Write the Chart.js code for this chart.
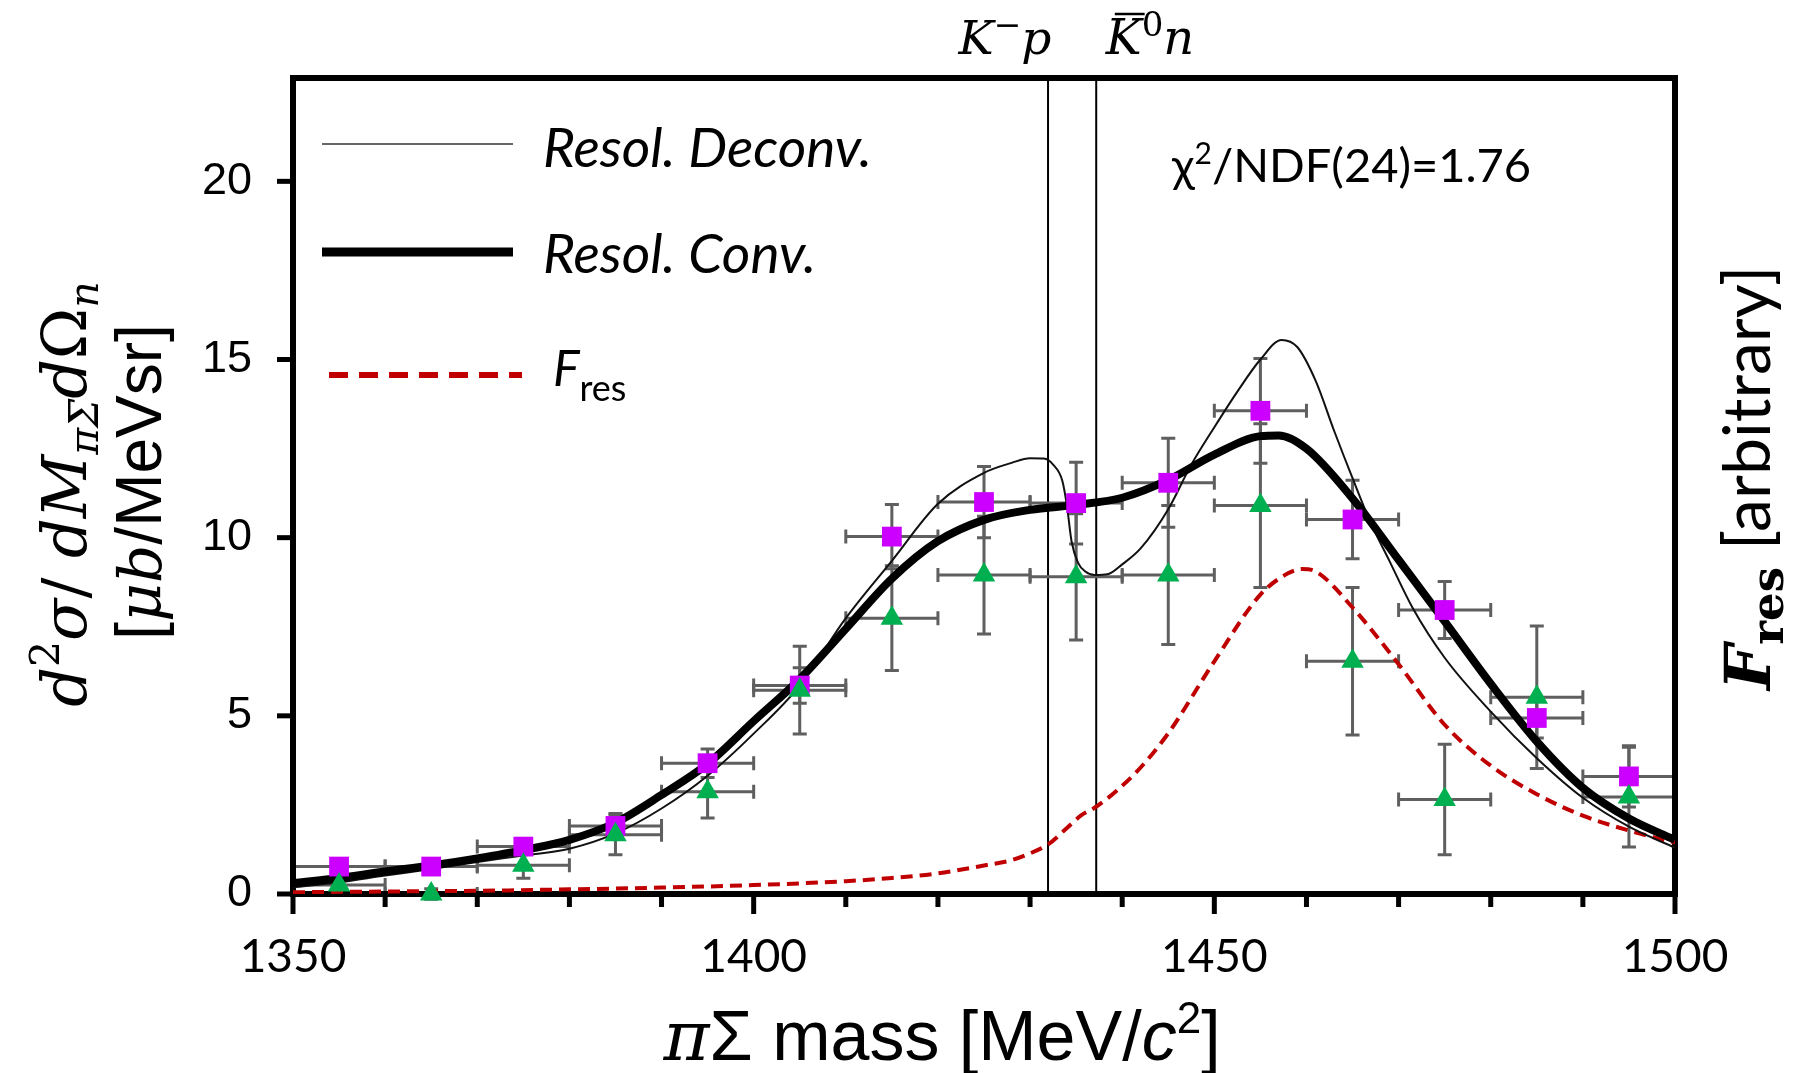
<!DOCTYPE html>
<html>
<head>
<meta charset="utf-8">
<script src="https://cdn.jsdelivr.net/npm/chart.js@4.4.0/dist/chart.umd.min.js"></script>
<style>
html,body{margin:0;padding:0;background:#ffffff;}
#wrap{width:1798px;height:1073px;position:relative;}
</style>
</head>
<body>
<div id="wrap"><canvas id="c" width="1798" height="1073"></canvas></div>
<script>
// ---------------- data ----------------
const massBins = [1355,1365,1375,1385,1395,1405,1415,1425,1435,1445,1455,1465,1475,1485,1495];
const binHalfWidth = 5;
const squareValues = [0.77,0.77,1.33,1.91,3.67,5.85,10.03,11.0,10.97,11.54,13.56,10.51,7.97,4.94,3.30];
const squareErrors = [0.15,0.15,0.2,0.35,0.4,0.5,0.9,1.0,1.15,1.25,1.47,1.1,0.8,0.56,0.86];
const triangleValues = [0.25,0.0,0.81,1.66,2.87,5.72,7.74,8.95,8.90,8.95,10.9,6.53,2.65,5.52,2.72];
const triangleErrors = [0.2,0.15,0.37,0.56,0.74,1.23,1.47,1.65,1.77,1.95,2.3,2.07,1.55,2.0,1.4];

const convMass = [1350,1355,1360,1365,1370,1375,1380,1385,1390,1395,1400,1405,1410,1415,1420,1425,1430,1435,1440,1445,1450,1455,1457,1460,1465,1470,1475,1480,1485,1490,1495,1500];
const convValues = [0.30,0.45,0.63,0.80,1.00,1.23,1.52,2.00,2.78,3.65,4.85,6.03,7.44,8.85,9.90,10.50,10.78,10.92,11.12,11.62,12.33,12.85,12.87,12.50,11.10,9.38,7.65,5.90,4.28,2.98,2.12,1.52];

const deconvMass = [1350,1355,1360,1365,1370,1375,1380,1385,1390,1395,1400,1405,1410,1415,1420,1425,1428,1430,1431.5,1432.5,1433.5,1434,1434.5,1435.2,1436,1437,1438.5,1440,1442,1445,1447.5,1450,1452.5,1455,1457.3,1459,1461,1463,1465,1467,1469,1471.5,1475,1480,1485,1490,1495,1500];
const deconvValues = [0.19,0.33,0.52,0.70,0.90,1.08,1.27,1.70,2.40,3.32,4.50,5.85,7.74,9.35,10.95,11.82,12.10,12.23,12.22,12.05,11.60,10.90,9.90,9.30,9.05,8.95,8.98,9.25,9.70,10.80,12.05,13.10,14.10,15.0,15.55,15.35,14.40,13.00,11.67,10.40,9.35,8.04,6.63,5.12,3.81,2.70,1.89,1.30];

const fresMass = [1350,1360,1370,1380,1390,1400,1410,1415,1420,1425,1428,1430,1432,1434,1435.5,1437,1439.4,1442,1445,1450,1455,1458,1459.5,1461,1465,1470,1475,1480,1485,1490,1495,1500];
const fresValues = [0.05,0.07,0.09,0.13,0.18,0.25,0.36,0.45,0.58,0.80,0.95,1.14,1.40,1.85,2.20,2.42,2.90,3.55,4.51,6.53,8.40,9.00,9.12,9.05,8.04,6.45,4.75,3.60,2.80,2.20,1.78,1.44];

const thresholdMass = [1431.95, 1437.18];
const xTickValues = [1350,1400,1450,1500];
const xMinorTickValues = [1350,1360,1370,1380,1390,1400,1410,1420,1430,1440,1450,1460,1470,1480,1490,1500];
const yTickValues = [0,5,10,15,20];

// ---------------- helpers ----------------
const SERIF = '"DejaVu Serif"';
const SANS = '"Liberation Sans", Arial';
const CAL = 'Lato, "DejaVu Sans"';
function pts(xs, ys){ return xs.map((x,i)=>({x:x, y:ys[i]})); }
function runsWidth(ctx, runs){ let w=0; for(const r of runs){ ctx.font=r.font; w+=ctx.measureText(r.text).width+(r.gap||0);} return w; }
function drawRuns(ctx, runs, x, y, align){
  const w = runsWidth(ctx, runs);
  let cx = align==='center' ? x-w/2 : (align==='right' ? x-w : x);
  const pos = [];
  for(const r of runs){
    ctx.font = r.font;
    ctx.fillText(r.text, cx, y+(r.dy||0));
    const rw = ctx.measureText(r.text).width;
    pos.push({x:cx, w:rw});
    cx += rw+(r.gap||0);
  }
  return pos;
}
function drawRotated(ctx, runs, baseX, centerY){
  ctx.save();
  ctx.translate(baseX, centerY);
  ctx.rotate(-Math.PI/2);
  drawRuns(ctx, runs, 0, 0, 'center');
  ctx.restore();
}

// ---------------- plugins ----------------
const framePlugin = {
  id: 'framePlugin',
  beforeDatasetsDraw(chart){
    const ctx = chart.ctx, a = chart.chartArea, xs = chart.scales.x, ys = chart.scales.y;
    ctx.save();
    // threshold lines
    ctx.strokeStyle = '#000'; ctx.lineWidth = 2;
    for(const m of thresholdMass){
      const px = xs.getPixelForValue(m);
      ctx.beginPath(); ctx.moveTo(px, a.top); ctx.lineTo(px, a.bottom); ctx.stroke();
    }
    // error bars
    ctx.strokeStyle = '#5f5f5f'; ctx.lineWidth = 3;
    const cap = 7;
    function bars(vals, errs){
      for(let i=0;i<massBins.length;i++){
        const px = xs.getPixelForValue(massBins[i]);
        const py = ys.getPixelForValue(vals[i]);
        const x0 = xs.getPixelForValue(massBins[i]-binHalfWidth);
        const x1 = xs.getPixelForValue(massBins[i]+binHalfWidth);
        const y0 = ys.getPixelForValue(vals[i]-errs[i]);
        const y1 = ys.getPixelForValue(vals[i]+errs[i]);
        ctx.beginPath();
        ctx.moveTo(x0, py); ctx.lineTo(x1, py);
        ctx.moveTo(x0, py-cap); ctx.lineTo(x0, py+cap);
        ctx.moveTo(x1, py-cap); ctx.lineTo(x1, py+cap);
        ctx.moveTo(px, y0); ctx.lineTo(px, y1);
        ctx.moveTo(px-cap, y0); ctx.lineTo(px+cap, y0);
        ctx.moveTo(px-cap, y1); ctx.lineTo(px+cap, y1);
        ctx.stroke();
      }
    }
    bars(triangleValues, triangleErrors);
    bars(squareValues, squareErrors);
    // frame
    ctx.strokeStyle = '#000'; ctx.lineWidth = 6;
    ctx.strokeRect(a.left, a.top, a.right-a.left, a.bottom-a.top);
    // x ticks
    ctx.lineWidth = 5;
    for(const v of xMinorTickValues){
      const px = xs.getPixelForValue(v);
      const len = xTickValues.includes(v) ? 20 : 13;
      ctx.beginPath(); ctx.moveTo(px, a.bottom); ctx.lineTo(px, a.bottom+len); ctx.stroke();
    }
    for(const v of yTickValues){
      const py = ys.getPixelForValue(v);
      ctx.beginPath(); ctx.moveTo(a.left, py); ctx.lineTo(a.left-16, py); ctx.stroke();
    }
    ctx.restore();
  },
  afterDraw(chart){
    const ctx = chart.ctx;
    ctx.save();
    ctx.fillStyle = '#000';
    ctx.textBaseline = 'alphabetic';
    ctx.textAlign = 'left';
    // x title
    drawRuns(ctx, [
      {text:'π', font:'italic 70px '+SERIF},
      {text:'Σ mass [MeV/', font:'70px '+SANS},
      {text:'c', font:'italic 70px '+SANS},
      {text:'2', font:'44px '+SANS, dy:-27},
      {text:']', font:'70px '+SANS}
    ], 942, 1060, 'center');
    // y title line 1
    drawRotated(ctx, [
      {text:'d', font:'italic 62px '+SERIF},
      {text:'2', font:'41px '+SERIF, dy:-27},
      {text:'σ', font:'italic 62px '+SERIF},
      {text:'/ ', font:'62px '+SERIF},
      {text:'dM', font:'italic 62px '+SERIF},
      {text:'πΣ', font:'italic 41px '+SERIF, dy:12},
      {text:'d', font:'italic 62px '+SERIF},
      {text:'Ω', font:'62px '+SERIF},
      {text:'n', font:'italic 41px '+SERIF, dy:12}
    ], 86, 494);
    // y title line 2
    drawRotated(ctx, [
      {text:'[', font:'64px '+SANS},
      {text:'μb', font:'italic 60px '+SERIF},
      {text:'/MeVsr]', font:'64px '+SANS}
    ], 161, 482);
    // right title
    drawRotated(ctx, [
      {text:'F', font:'bold italic 64px '+SERIF},
      {text:'res', font:'bold 45px '+SERIF, dy:13},
      {text:' [arbitrary]', font:'66px '+CAL}
    ], 1770, 478);
    // threshold labels
    drawRuns(ctx, [
      {text:'K', font:'italic 47px '+SERIF},
      {text:'−', font:'33px '+SERIF, dy:-18},
      {text:'p', font:'italic 47px '+SERIF}
    ], 1005, 54, 'center');
    const kpos = drawRuns(ctx, [
      {text:'K', font:'italic 48px '+SERIF},
      {text:'0', font:'34px '+SERIF, dy:-18},
      {text:'n', font:'italic 48px '+SERIF}
    ], 1150, 54, 'center');
    ctx.strokeStyle = '#000'; ctx.lineWidth = 2.5;
    ctx.beginPath(); ctx.moveTo(kpos[0].x+9, 14); ctx.lineTo(kpos[0].x+kpos[0].w+3, 14); ctx.stroke();
    // chi2
    drawRuns(ctx, [
      {text:'χ', font:'47px '+CAL},
      {text:'2', font:'30px '+CAL, dy:-18},
      {text:'/NDF(24)=1.76', font:'47px '+CAL}
    ], 1172, 182, 'left');
    // legend
    ctx.strokeStyle = '#333'; ctx.lineWidth = 1.5;
    ctx.beginPath(); ctx.moveTo(322,144); ctx.lineTo(513,144); ctx.stroke();
    ctx.strokeStyle = '#000'; ctx.lineWidth = 9;
    ctx.beginPath(); ctx.moveTo(322,252); ctx.lineTo(513,252); ctx.stroke();
    ctx.strokeStyle = '#C00000'; ctx.lineWidth = 6; ctx.setLineDash([19,11]);
    ctx.beginPath(); ctx.moveTo(329,375); ctx.lineTo(522,375); ctx.stroke();
    ctx.setLineDash([]);
    drawRuns(ctx, [{text:'Resol. Deconv.', font:'italic 55px '+CAL}], 543, 167, 'left');
    drawRuns(ctx, [{text:'Resol. Conv.', font:'italic 55px '+CAL}], 543, 273, 'left');
    drawRuns(ctx, [
      {text:'F', font:'italic 50px '+CAL},
      {text:'res', font:'36px '+CAL, dy:15}
    ], 553, 386, 'left');
    ctx.restore();
  }
};

// ---------------- chart ----------------
new Chart(document.getElementById('c'), {
  type: 'scatter',
  data: {
    datasets: [
      { label:'triangles', data: pts(massBins, triangleValues), pointStyle:'triangle', pointRadius:13,
        backgroundColor:'#00B050', borderWidth:0, order:0, clip:false },
      { label:'squares', data: pts(massBins, squareValues), pointStyle:'rect', pointRadius:14,
        backgroundColor:'#CC00FF', borderWidth:0, order:1, clip:false },
      { label:'Resol. Conv.', data: pts(convMass, convValues), showLine:true, pointRadius:0,
        borderColor:'#000', borderWidth:8, cubicInterpolationMode:'monotone', order:2 },
      { label:'Resol. Deconv.', data: pts(deconvMass, deconvValues), showLine:true, pointRadius:0,
        borderColor:'#111', borderWidth:2, cubicInterpolationMode:'monotone', order:3 },
      { label:'Fres', data: pts(fresMass, fresValues), showLine:true, pointRadius:0,
        borderColor:'#C00000', borderWidth:4, borderDash:[12,7], cubicInterpolationMode:'monotone', order:4 }
    ]
  },
  options: {
    responsive:false, animation:false, devicePixelRatio:1, events:[],
    layout:{ padding:{ left:0, top:78, right:123, bottom:0 } },
    plugins:{ legend:{display:false}, tooltip:{enabled:false}, title:{display:false} },
    scales:{
      x:{ type:'linear', min:1350, max:1500,
        grid:{display:false, drawTicks:false}, border:{display:false},
        afterBuildTicks(s){ s.ticks = xTickValues.map(v=>({value:v})); },
        ticks:{ autoSkip:false, maxRotation:0, padding:36, color:'#000',
          font:{family:'Lato', size:46}, callback:v=>String(v) },
        afterFit(s){ s.height = 179; }
      },
      y:{ type:'linear', min:0, max:22.9,
        grid:{display:false, drawTicks:false}, border:{display:false},
        afterBuildTicks(s){ s.ticks = yTickValues.map(v=>({value:v})); },
        ticks:{ autoSkip:false, padding:41, color:'#000',
          font:{family:'Liberation Sans', size:45}, callback:v=>String(v) },
        afterFit(s){ s.width = 293; }
      }
    }
  },
  plugins:[framePlugin]
});
</script>
</body>
</html>
